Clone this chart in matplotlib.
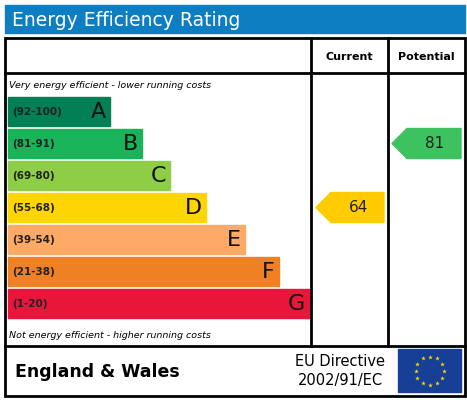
import matplotlib
matplotlib.use("Agg")
import matplotlib.pyplot as plt
from matplotlib.patches import Rectangle, Polygon
import numpy as np

bands = ["A", "B", "C", "D", "E", "F", "G"]
ranges = ["(92-100)", "(81-91)", "(69-80)", "(55-68)", "(39-54)", "(21-38)", "(1-20)"]
colors = ["#008054", "#19b459", "#8dce46", "#ffd500", "#fcaa65", "#ef8023", "#e9153b"]
band_right = [110, 142, 170, 206, 245, 279, 309]
current_value = 64
potential_value = 81
current_color = "#ffcc00"
potential_color = "#3cc35f"

fig = plt.figure(figsize=(4.67, 4.03), dpi=100)
ax = fig.add_axes([0, 0, 1, 1])
ax.set_xlim(0, 467); ax.set_ylim(403, 0); ax.axis("off")

ax.add_patch(Rectangle((5, 5), 460, 28, color="#0e7ec3"))
ax.text(12, 20, "Energy Efficiency Rating", color="white", fontsize=13.5, va="center", family="DejaVu Sans")

lw = 2
ax.add_patch(Rectangle((5, 38), 460, 358, fill=False, lw=lw, ec="black"))
ax.plot([5, 465], [73, 73], color="black", lw=lw)
ax.plot([5, 465], [346, 346], color="black", lw=lw)
ax.plot([311, 311], [38, 346], color="black", lw=lw)
ax.plot([388, 388], [38, 346], color="black", lw=lw)
ax.text(349.5, 57, "Current", fontsize=8, fontweight="bold", ha="center", va="center")
ax.text(426.5, 57, "Potential", fontsize=8, fontweight="bold", ha="center", va="center")
ax.text(9, 86, "Very energy efficient - lower running costs", fontsize=6.8, style="italic", va="center")
ax.text(9, 335, "Not energy efficient - higher running costs", fontsize=6.8, style="italic", va="center")

def band_index(v):
    lows = [92, 81, 69, 55, 39, 21, 1]
    for i, lo in enumerate(lows):
        if v >= lo:
            return i
    return 6

for i, (b, r, c, xr) in enumerate(zip(bands, ranges, colors, band_right)):
    y0 = 97 + i * 32
    ax.add_patch(Rectangle((8, y0), xr - 8, 29, color=c))
    ax.text(12, y0 + 15, r, fontsize=7.5, fontweight="bold", va="center", color="#222222")
    ax.text(xr - 4, y0 + 15.5, b, fontsize=16, ha="right", va="center", color="#111111")

def arrow(x0, x1, v, c):
    i = band_index(v)
    yc = 97 + i * 32 + 14.5
    h = 15
    pts = [(x0, yc), (x0 + 15, yc - h), (x1, yc - h), (x1, yc + h), (x0 + 15, yc + h)]
    ax.add_patch(Polygon(pts, closed=True, color=c))
    ax.text((x0 + 15 + x1) / 2 + 1, yc + 0.5, str(v), fontsize=11, ha="center", va="center", color="#222222")

arrow(316, 384, current_value, current_color)
arrow(392, 461, potential_value, potential_color)

ax.text(15, 372, "England & Wales", fontsize=12.5, fontweight="bold", va="center")
ax.text(340, 361, "EU Directive", fontsize=10.5, ha="center", va="center")
ax.text(340, 381, "2002/91/EC", fontsize=10.5, ha="center", va="center")
ax.add_patch(Rectangle((398, 349), 63, 43, color="#183f96"))
ang = np.linspace(0, 2 * np.pi, 13)[:-1]
ax.scatter(429.5 + 14 * np.cos(ang), 370.5 + 14 * np.sin(ang), marker="*", s=12, color="#ffdd00", lw=0)

fig.savefig("out.png", dpi=100)
